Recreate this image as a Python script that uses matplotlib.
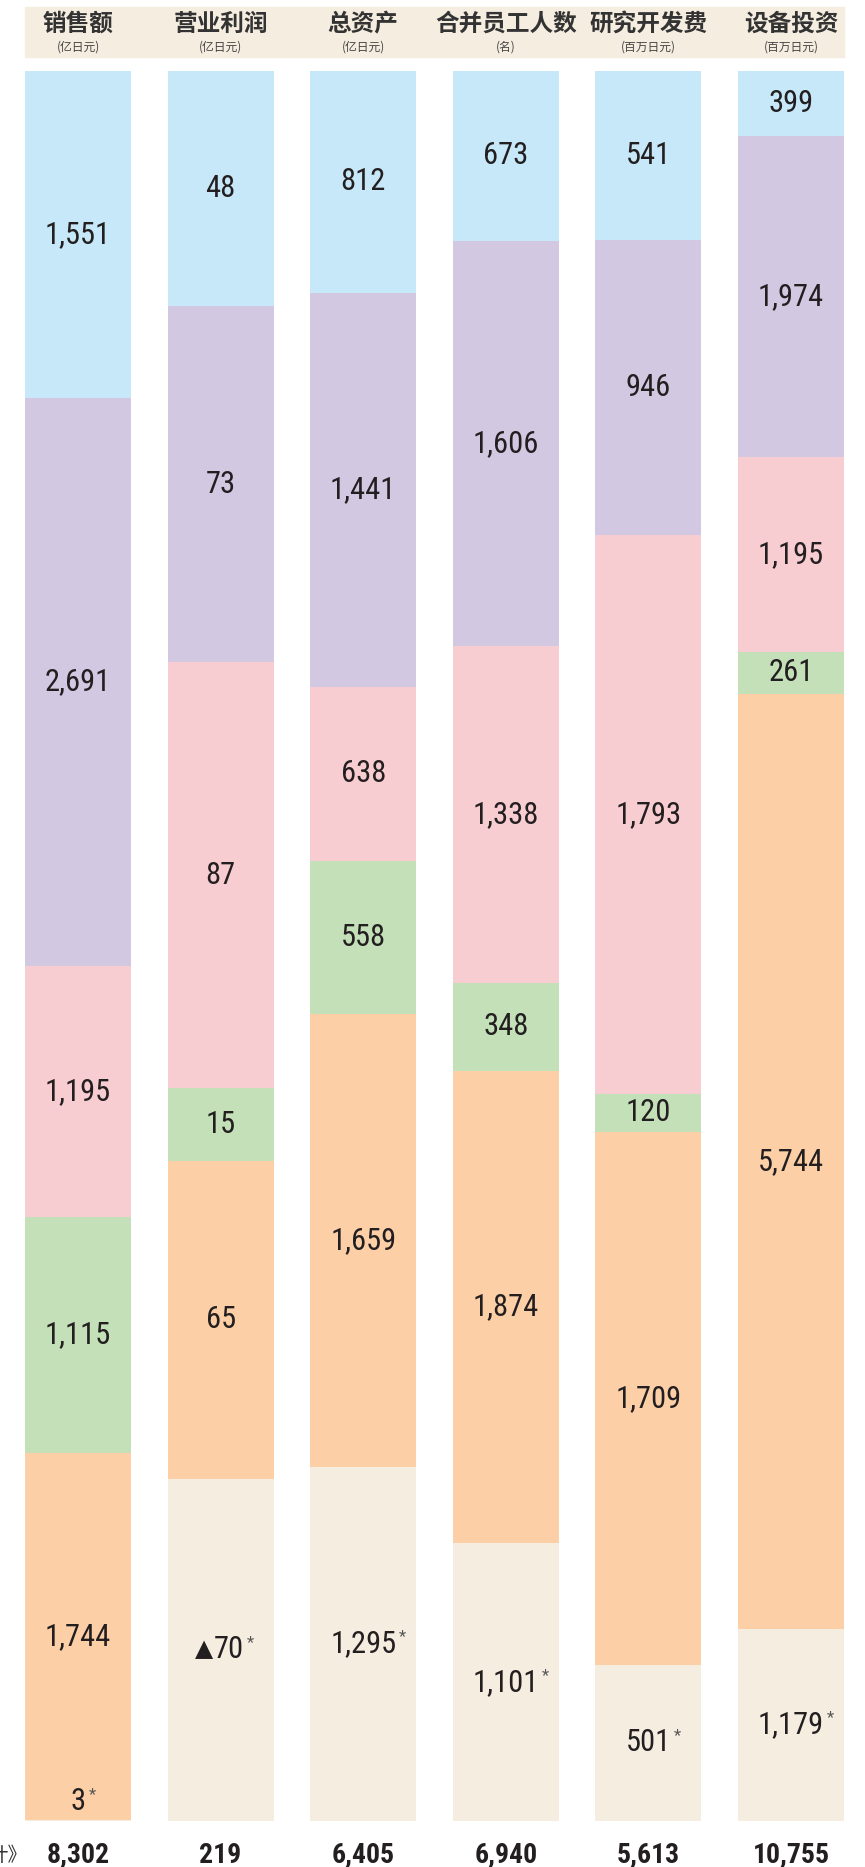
import numpy as np
import matplotlib.pyplot as plt
from matplotlib.patches import Rectangle
from matplotlib.transforms import blended_transform_factory

titles = ['销售额', '营业利润', '总资产', '合并员工人数', '研究开发费', '设备投资']
units = ['(亿日元)', '(亿日元)', '(亿日元)', '(名)', '(百万日元)', '(百万日元)']

# segments, top to bottom in the picture
seg_blue = [1551, 48, 812, 673, 541, 399]
seg_purple = [2691, 73, 1441, 1606, 946, 1974]
seg_pink = [1195, 87, 638, 1338, 1793, 1195]
seg_green = [1115, 15, 558, 348, 120, 261]
seg_orange = [1744, 65, 1659, 1874, 1709, 5744]
seg_other = [3, -70, 1295, 1101, 501, 1179]  # marked with *
totals = [8302, 219, 6405, 6940, 5613, 10755]

# stacking order bottom -> top
segs = np.array([seg_other, seg_orange, seg_green, seg_pink, seg_purple, seg_blue])
colors = ['#f5ede0', '#fccfa6', '#c3e0b8', '#f8cdd1', '#d3c8e2', '#c6e8f8']

frac = np.abs(segs) / np.abs(segs).sum(axis=0)
x = np.arange(len(titles))

W, H = 865, 1867
fig = plt.figure(figsize=(W / 100, H / 100), dpi=100)

# header band behind the titles
fig.patches.append(Rectangle((25 / W, 1 - 57 / H), 819 / W, 50 / H,
                             transform=fig.transFigure, color='#f5ede0', zorder=-5))

ax = fig.add_axes([6.7 / W, (H - 1821) / H, 855.6 / W, 1750 / H])
ax.set_xlim(-0.5, 5.5)
ax.set_ylim(0, 1)
ax.axis('off')

num_font = ['Roboto Condensed', 'DejaVu Sans']
cjk_font = ['Noto Sans CJK SC', 'DejaVu Sans']
txt_col = '#231f20'

bottom = np.zeros(len(titles))
for i in range(len(segs)):
    ax.bar(x, frac[i], bottom=bottom, width=0.743, color=colors[i], linewidth=0)
    for j in range(len(x)):
        v = segs[i, j]
        if frac[i, j] < 0.01:
            ypos, va = bottom[j] + 0.003, 'bottom'
        else:
            ypos, va = bottom[j] + frac[i, j] / 2, 'center'
        shift = 6 if v < 0 else 0
        t = ax.annotate(f'{abs(v):,}', xy=(x[j], ypos), xytext=(shift, 0),
                        textcoords='offset points', ha='center', va=va, fontsize=22,
                        family=num_font, fontweight='normal', color=txt_col)
        if v < 0:
            ax.annotate('▲', xy=(0, 0.12), xycoords=t, xytext=(-0.5, 0),
                        textcoords='offset points', ha='right', va='bottom',
                        fontsize=17, family='DejaVu Sans', color=txt_col)
        if i == 0:
            ax.annotate('*', xy=(1, 1), xycoords=t, xytext=(2, 0),
                        textcoords='offset points', ha='left', va='top',
                        fontsize=12, color='#555555', family=num_font)
    bottom += frac[i]

tr = blended_transform_factory(ax.transData, fig.transFigure)
for j in range(len(x)):
    ax.text(x[j], 1 - 24 / H, titles[j], transform=tr, ha='center', va='center',
            fontsize=17, fontweight='bold', family=cjk_font, color='#333333')
    ax.text(x[j], 1 - 47 / H, units[j], transform=tr, ha='center', va='center',
            fontsize=8.5, family=cjk_font, color='#444444')
    ax.text(x[j], 4 / H, f'{totals[j]:,}', transform=tr, ha='center', va='baseline',
            fontsize=20, fontweight='bold', family=num_font, color=txt_col)

fig.text(27 / W, 6 / H, '计》', ha='right', va='baseline', fontsize=14,
         family=cjk_font, color='#333333')

fig.savefig('out.png', dpi=100)
